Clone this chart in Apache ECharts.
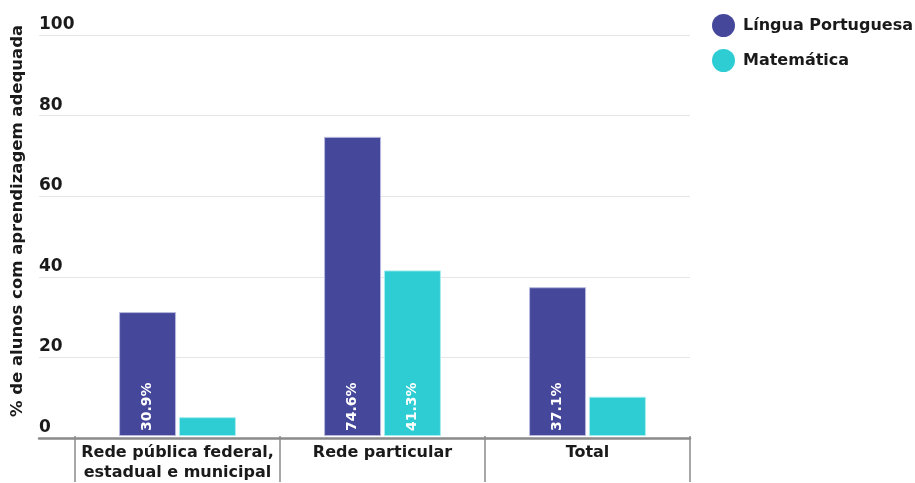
<!DOCTYPE html>
<html>
<head>
<meta charset="utf-8">
<script src="https://cdn.jsdelivr.net/npm/echarts@6/dist/echarts.min.js"></script>
<style>
  html, body { margin: 0; padding: 0; background: #fff; }
  #chart { width: 915px; height: 483px; }
</style>
</head>
<body>
<div id="chart"></div>
<script>
const categories = ['Rede pública federal,\nestadual e municipal', 'Rede particular', 'Total'];
const seriesNames = ['Língua Portuguesa', 'Matemática'];
const portugues = [30.9, 74.6, 37.1];
const matematica = [4.7, 41.3, 9.8];
// which bars carry a value label inside
const labelPortugues = [true, true, true];
const labelMatematica = [false, true, false];
const yTicks = [0, 20, 40, 60, 80, 100];
const yTitle = '% de alunos com aprendizagem adequada';

const colors = ['#45479a', '#2ecdd4'];
const font = '"DejaVu Sans", sans-serif';
const ink = '#1a1a1a';

const chart = echarts.init(document.getElementById('chart'));

function withLabels(values, flags) {
  return values.map((v, i) => ({
    value: v,
    label: { show: flags[i] }
  }));
}

const barLabel = {
  position: 'insideBottom',
  rotate: 90,
  align: 'left',
  verticalAlign: 'middle',
  distance: 5,
  color: '#fff',
  fontFamily: font,
  fontWeight: 700,
  fontSize: 14,
  formatter: p => p.value.toFixed(1) + '%'
};

chart.setOption({
  animation: false,
  color: colors,
  legend: {
    orient: 'vertical',
    left: 707,
    top: 9,
    itemWidth: 23,
    itemHeight: 23,
    itemGap: 12,
    icon: 'circle',
    itemStyle: { borderWidth: 0 },
    data: seriesNames,
    textStyle: { fontFamily: font, fontWeight: 700, fontSize: 16, color: ink, padding: [0, 0, 0, 3] }
  },
  graphic: [{
    type: 'text',
    x: 18,
    y: 221,
    rotation: Math.PI / 2,
    style: {
      text: yTitle,
      x: 0, y: 0,
      align: 'center',
      verticalAlign: 'middle',
      fontFamily: font,
      fontWeight: 700,
      fontSize: 16.5,
      fill: ink
    }
  }],
  grid: [
    { left: 39, right: 225, top: 35, bottom: 45 },
    { left: 75, right: 225, top: 35, bottom: 45 }
  ],
  xAxis: [
    {
      gridIndex: 0, type: 'category', data: categories,
      axisLine: { show: true, lineStyle: { color: '#8a8a8a', width: 2.5 } },
      axisTick: { show: false }, axisLabel: { show: false }
    },
    {
      gridIndex: 1, type: 'category', data: categories,
      axisLine: { show: false },
      axisTick: { show: true, interval: 0, length: 46, lineStyle: { color: '#8a8a8a', width: 1.5 } },
      axisLabel: {
        interval: 0,
        hideOverlap: false,
        margin: 7,
        fontFamily: font, fontWeight: 700, fontSize: 16, lineHeight: 20,
        color: ink
      }
    }
  ],
  yAxis: [
    {
      gridIndex: 0, type: 'value', min: 0, max: 100, interval: 20,
      axisLine: { show: false }, axisTick: { show: false },
      splitLine: { lineStyle: { color: '#e6e6e6', width: 1 } },
      axisLabel: {
        inside: true, margin: 0, align: 'left', verticalAlign: 'bottom',
        padding: [0, 0, 2, 0],
        fontFamily: font, fontWeight: 700, fontSize: 17, color: ink,
        customValues: yTicks
      }
    },
    {
      gridIndex: 1, type: 'value', min: 0, max: 100, interval: 20,
      show: false, splitLine: { show: false }
    }
  ],
  series: [
    {
      name: seriesNames[0], type: 'bar', xAxisIndex: 1, yAxisIndex: 1,
      barWidth: 57, barGap: '5%',
      itemStyle: { color: colors[0], borderColor: '#b9bade', borderWidth: 1 },
      label: barLabel,
      data: withLabels(portugues, labelPortugues)
    },
    {
      name: seriesNames[1], type: 'bar', xAxisIndex: 1, yAxisIndex: 1,
      barWidth: 57, barGap: '5%',
      itemStyle: { color: colors[1], borderColor: '#a8eef0', borderWidth: 1 },
      label: barLabel,
      data: withLabels(matematica, labelMatematica)
    }
  ]
});
</script>
</body>
</html>
